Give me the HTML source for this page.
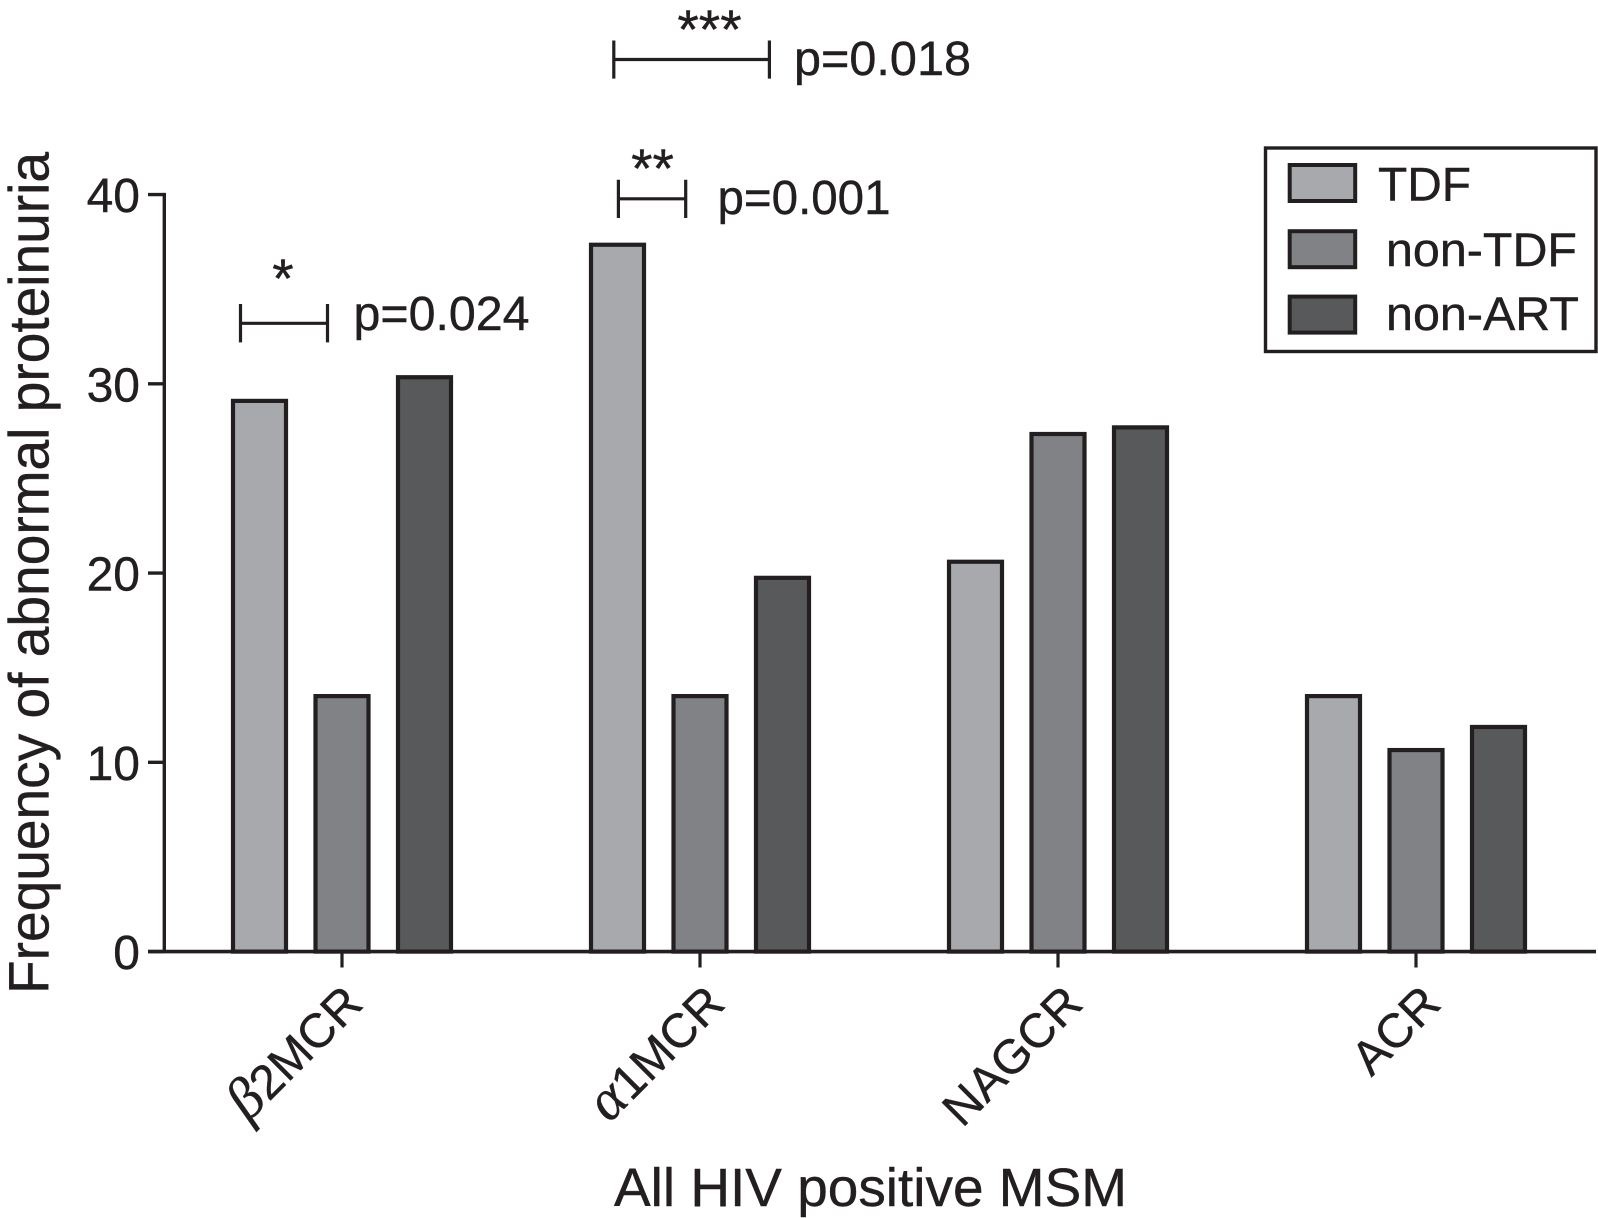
<!DOCTYPE html>
<html lang="en">
<head>
<meta charset="utf-8">
<title>Frequency of abnormal proteinuria</title>
<style>
html,body{margin:0;padding:0;background:#fff;width:1598px;height:1218px;overflow:hidden}
svg{display:block}
text{font-family:"Liberation Sans",Arial,sans-serif;fill:#231f20;stroke:#231f20;stroke-width:.4}
</style>
</head>
<body>
<svg id="chart" xmlns="http://www.w3.org/2000/svg" width="1598" height="1218" viewBox="0 0 1598 1218">
  <rect x="0" y="0" width="1598" height="1218" fill="#ffffff"/>
  <g id="bars"></g>
  <g id="axes"></g>

  <text transform="translate(48.5 994) rotate(-90)" font-size="57" textLength="842" lengthAdjust="spacingAndGlyphs">Frequency of abnormal proteinuria</text>
  <text x="614" y="1206" font-size="54" textLength="513" lengthAdjust="spacingAndGlyphs">All HIV positive MSM</text>

  <g stroke="#231f20" stroke-width="3.2" fill="none">
    <path d="M240.5 304V342.4M327.5 304V342.4M240.5 323.3H327.5"/>
  </g>
  <text x="283" y="297" font-size="55" text-anchor="middle">*</text>
  <text x="353.5" y="330" font-size="48" textLength="176" lengthAdjust="spacingAndGlyphs">p=0.024</text>

  <g stroke="#231f20" stroke-width="3.2" fill="none">
    <path d="M618.4 179.8V218M685.7 179.8V218M618.4 198.8H685.7"/>
  </g>
  <text x="652.5" y="187" font-size="55" text-anchor="middle">**</text>
  <text x="717.5" y="214" font-size="48" textLength="173" lengthAdjust="spacingAndGlyphs">p=0.001</text>

  <g stroke="#231f20" stroke-width="3.2" fill="none">
    <path d="M613.8 40.5V78.6M769.4 40.5V78.6M613.8 59.5H769.4"/>
  </g>
  <text x="709.5" y="48" font-size="55" text-anchor="middle">***</text>
  <text x="794" y="75" font-size="48" textLength="177" lengthAdjust="spacingAndGlyphs">p=0.018</text>

  <g>
    <rect x="1265.5" y="148" width="330.5" height="203.5" fill="#fff" stroke="#231f20" stroke-width="3.4"/>
    <rect x="1289.7" y="165" width="65.5" height="36" fill="#a7a9ac" stroke="#231f20" stroke-width="4"/>
    <text x="1378" y="200.5" font-size="47.5" textLength="93" lengthAdjust="spacingAndGlyphs">TDF</text>
    <rect x="1289.7" y="231.2" width="65.5" height="36" fill="#808285" stroke="#231f20" stroke-width="4"/>
    <text x="1386" y="265.8" font-size="47.5" textLength="191" lengthAdjust="spacingAndGlyphs">non-TDF</text>
    <rect x="1289.7" y="296.6" width="65.5" height="36" fill="#58595b" stroke="#231f20" stroke-width="4"/>
    <text x="1386" y="330" font-size="47.5" textLength="193" lengthAdjust="spacingAndGlyphs">non-ART</text>
  </g>
</svg>
<script>
var categories = ["β2MCR", "α1MCR", "NAGCR", "ACR"];
var tdfValues = [29.1, 37.35, 20.6, 13.5];
var nonTdfValues = [13.5, 13.5, 27.35, 10.65];
var nonArtValues = [30.35, 19.75, 27.7, 11.87];
var yTickValues = [0, 10, 20, 30, 40];
var seriesNames = ["tdf", "non-tdf", "non-art"];

var NS = "http://www.w3.org/2000/svg";
var INK = "#231f20";
var FILLS = ["#a7a9ac", "#808285", "#58595b"];
var Y0 = 951.6, YPER = 18.925;
var GROUP0 = 342, GROUPSTEP = 358, BARSTEP = 82.5, BARW = 53;
function yScale(v) { return Y0 - v * YPER; }
function xScale(i) { return GROUP0 + i * GROUPSTEP; }
function make(tag) { return document.createElementNS(NS, tag); }
function setAll(el, o) { for (var k in o) el.setAttribute(k, o[k]); return el; }

var barsG = document.getElementById("bars");
var axesG = document.getElementById("axes");
var allSeries = [tdfValues, nonTdfValues, nonArtValues];

allSeries.forEach(function (vals, s) {
  vals.forEach(function (v, i) {
    var r = make("rect");
    
    
    setAll(r, {
      x: xScale(i) + (s - 1) * BARSTEP - BARW / 2,
      y: yScale(v),
      width: BARW,
      height: Y0 - yScale(v),
      fill: FILLS[s], stroke: INK, "stroke-width": 4.2
    });
    barsG.appendChild(r);
  });
});

var yAxis = make("line");


setAll(yAxis, { x1: 164.3, x2: 164.3, y1: yScale(40) - 1.7, y2: Y0, stroke: INK, "stroke-width": 3.4 });
axesG.appendChild(yAxis);

var xAxis = make("line");


setAll(xAxis, { x1: 148, x2: 1596, y1: Y0, y2: Y0, stroke: INK, "stroke-width": 3.6 });
axesG.appendChild(xAxis);

yTickValues.forEach(function (t) {
  var tick = make("line");
  
  
  setAll(tick, { x1: 148, x2: 164.3, y1: yScale(t), y2: yScale(t), stroke: INK, "stroke-width": 3.4 });
  axesG.appendChild(tick);
  var lab = make("text");
  
  
  setAll(lab, { x: 140, y: yScale(t) + 17.5, "font-size": 48, "text-anchor": "end" });
  lab.textContent = String(t);
  axesG.appendChild(lab);
});

categories.forEach(function (c, i) {
  var tick = make("line");
  
  
  setAll(tick, { x1: xScale(i), x2: xScale(i), y1: Y0, y2: 967.5, stroke: INK, "stroke-width": 3.2 });
  axesG.appendChild(tick);

  var ax = xScale(i) + 27, ay = 1006;
  if (i === 0) { ax = xScale(i) + 23; }
  var lab = make("text");
  
  
  setAll(lab, { "font-size": 48, "text-anchor": "end", transform: "translate(" + ax + " " + ay + ") rotate(-45)" });
  var first = c.charAt(0);
  if (first === "β" || first === "α") {
    var g = make("tspan");
    
    
    g.setAttribute("font-style", "italic");
    g.setAttribute("font-size", "58");
    g.setAttribute("style", 'font-family:"Liberation Serif","DejaVu Serif",serif');
    g.textContent = first;
    lab.appendChild(g);
    lab.appendChild(document.createTextNode(c.slice(1)));
  } else {
    lab.textContent = c;
  }
  axesG.appendChild(lab);
});
</script>
</body>
</html>
